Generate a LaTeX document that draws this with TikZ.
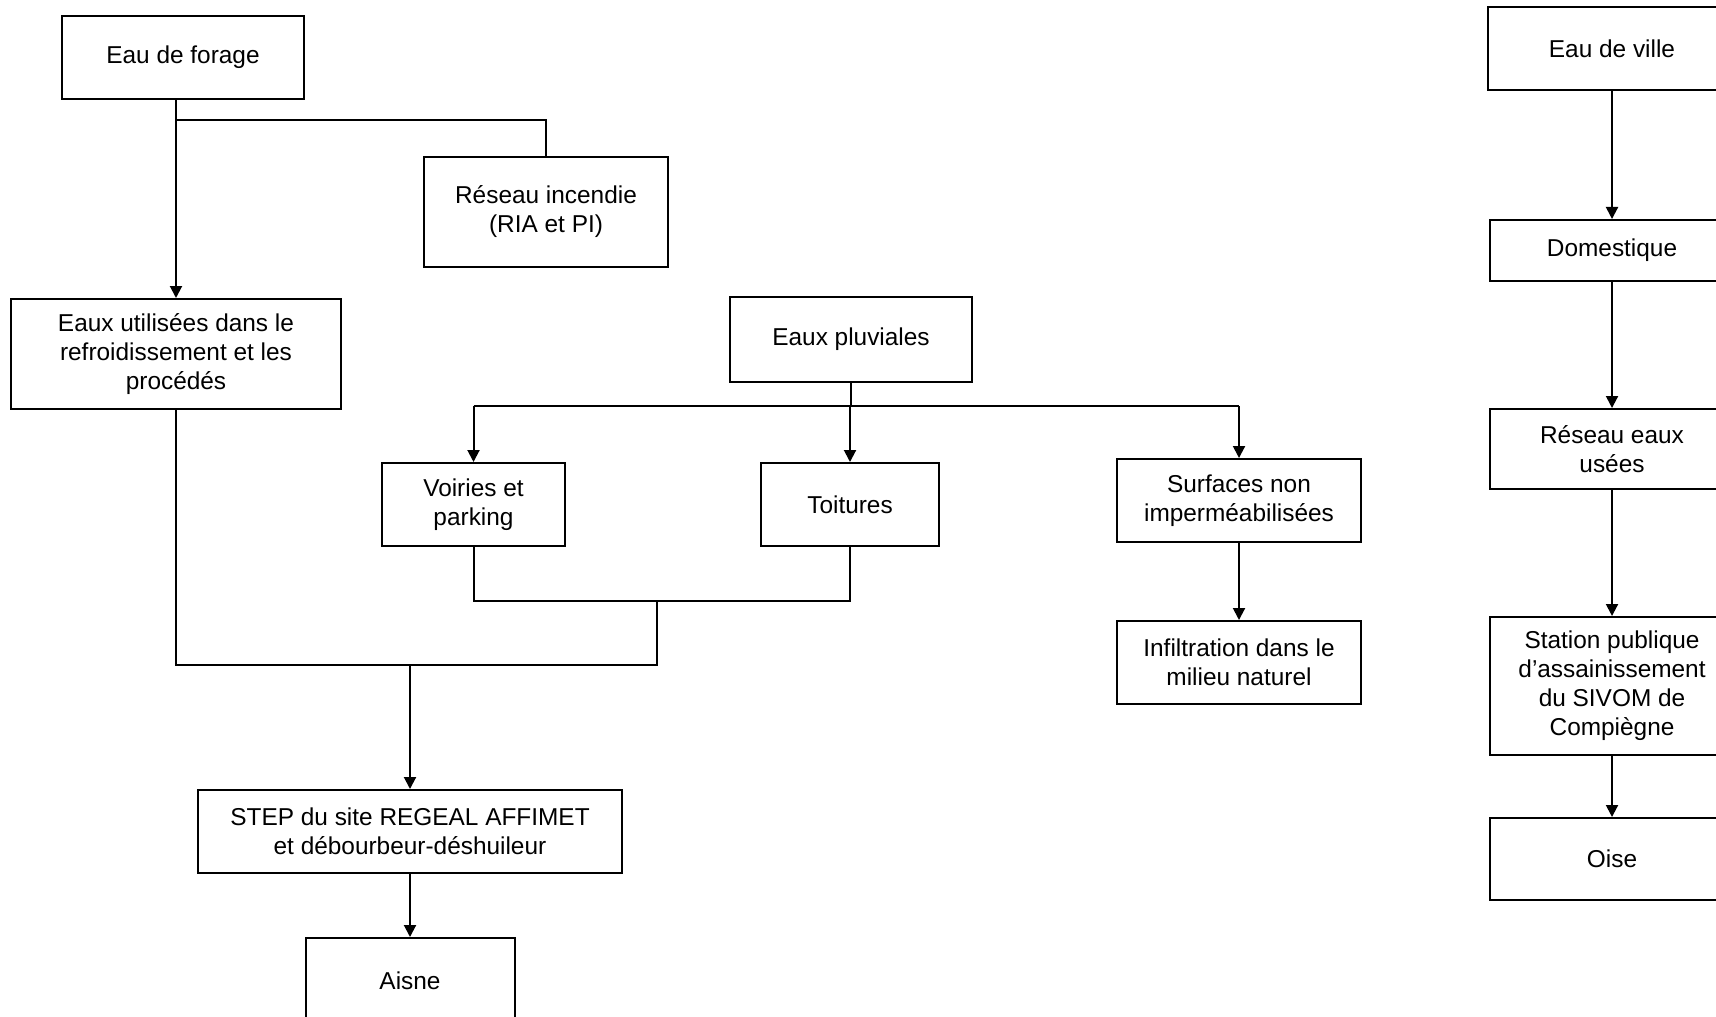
\documentclass[tikz,border=0pt]{standalone}
\usepackage{fontspec}
\setmainfont{Liberation Sans}
\usetikzlibrary{arrows.meta}

\begin{document}
\begin{tikzpicture}[x=0.5pt, y=-0.5pt, line width=1pt, >={Triangle[width=6pt,length=6pt]},
        bloc/.style={draw, line width=1pt, align=center, inner sep=0pt,
            font=\fontsize{12.2}{14.5}\selectfont}]
        \useasboundingbox (0,0) rectangle (1716,1016);
        \clip (0,0) rectangle (1716,1016);

        % eau de forage
        \node[bloc, minimum width=121pt, minimum height=41.5pt] (forage) at (183, 57.5) {Eau de forage};
        \node[bloc, minimum width=122pt, minimum height=55pt] (incendie) at (546, 212) {R\'eseau incendie\\(RIA et PI)};
        \node[bloc, minimum width=165pt, minimum height=55pt] (util) at (176, 354) {Eaux utilis\'ees dans le\\refroidissement et les\\proc\'ed\'es};

        % eaux pluviales
        \node[bloc, minimum width=121pt, minimum height=42.5pt] (pluv) at (851, 339.5) {Eaux pluviales};
        \node[bloc, minimum width=91.5pt, minimum height=41.5pt] (voiries) at (473.5, 504.5) {Voiries et\\parking};
        \node[bloc, minimum width=89pt, minimum height=41.5pt] (toitures) at (850, 504.5) {Toitures};
        \node[bloc, minimum width=122pt, minimum height=41.5pt] (surfaces) at (1239, 500.5) {Surfaces non\\imperm\'eabilis\'ees};
        \node[bloc, minimum width=122pt, minimum height=41.5pt] (infiltr) at (1239, 662.5) {Infiltration dans le\\milieu naturel};

        \node[bloc, minimum width=212pt, minimum height=41.5pt] (step) at (410, 831.5) {STEP du site REGEAL AFFIMET\\et d\'ebourbeur-d\'eshuileur};
        \node[bloc, minimum width=104.5pt, minimum height=43pt] (aisne) at (410, 981) {Aisne};

        % eau de ville
        \node[bloc, minimum width=124pt, minimum height=41.5pt] (ville) at (1612, 48.5) {Eau de ville};
        \node[bloc, minimum width=122pt, minimum height=30.5pt] (domest) at (1612, 250.5) {Domestique};
        \node[bloc, minimum width=122pt, minimum height=40pt] (reseau) at (1612, 449) {R\'eseau eaux\\us\'ees};
        \node[bloc, minimum width=122pt, minimum height=69pt] (station) at (1612, 686) {Station publique\\d'assainissement\\du SIVOM de\\Compi\`egne};
        \node[bloc, minimum width=122pt, minimum height=41pt] (oise) at (1612, 859) {Oise};

        \coordinate (jforage) at (176, 120);
        \coordinate (jpluv) at (851, 406);
        \coordinate (jtoit) at (657, 601);
        \coordinate (jstep) at (410, 665);

        \draw[->] (forage.south -| jforage) -- (util.north);
        \draw (jforage) -| (incendie.north);

        \draw (pluv.south) -- (jpluv);
        \draw (voiries.north |- jpluv) -- (surfaces.north |- jpluv);
        \foreach \n in {voiries, toitures, surfaces}
        {
            \draw[->] (\n.north |- jpluv) -- (\n.north);
        }
        \draw[->] (surfaces) -- (infiltr);

        \draw (voiries.south) |- (toitures.south |- jtoit) -- (toitures.south);
        \draw (jtoit) -- (jtoit |- jstep) -- (util.south |- jstep) -- (util.south);
        \draw[->] (jstep) -- (step);
        \draw[->] (step) -- (aisne);

        \foreach \a/\b in {ville/domest, domest/reseau, reseau/station, station/oise}
        {
            \draw[->] (\a) -- (\b);
        }
    \end{tikzpicture}
\end{document}
